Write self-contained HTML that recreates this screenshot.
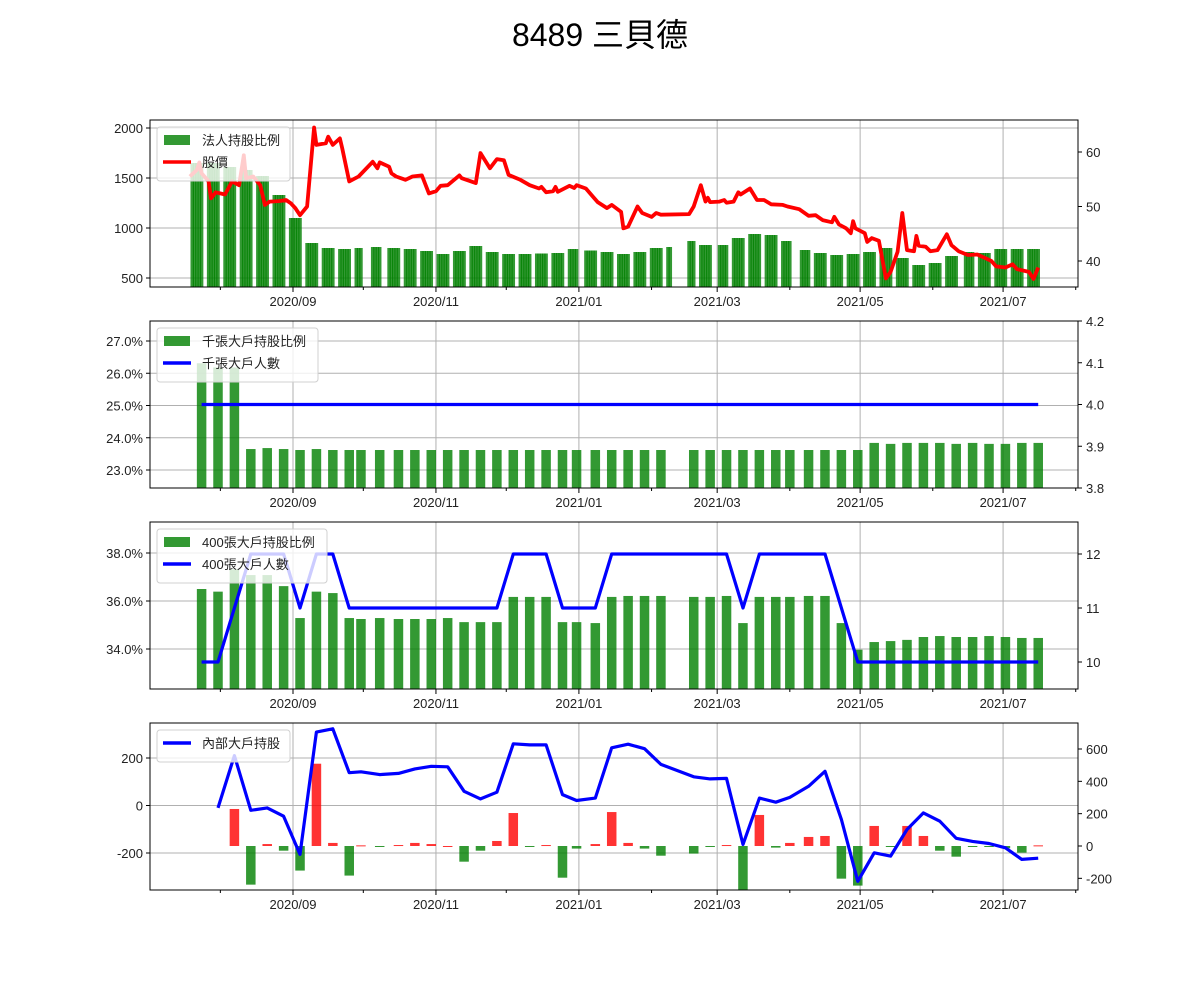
<!DOCTYPE html>
<html><head><meta charset="utf-8"><style>
body{margin:0;background:#fff;}
svg{display:block;font-family:"Liberation Sans","Noto Sans CJK TC",sans-serif;}
</style></head><body>
<svg id="chart" width="1200" height="1000" viewBox="0 0 1200 1000">
<rect x="0" y="0" width="1200" height="1000" fill="#fff"/>
<text x="600" y="46" text-anchor="middle" font-size="32" fill="#000">8489 三貝德</text>
</svg>
<script>
// ---- shared x categories (days offset from 2020-09-01) ----
const weekDays=[-39,-32,-25,-18,-11,-4,3,10,17,24,29,37,45,52,59,66,73,80,87,94,101,108,115,121,129,136,143,150,157,171,178,185,192,199,206,212,220,227,234,241,248,255,262,269,276,283,290,297,304,311,318];
const xTickLabels=["2020/09","2020/11","2021/01","2021/03","2021/05","2021/07"];
const xTickDays=[0,61,122,181,242,303];
const xMinorDays=[-31,30,91,153,212,273,334];
// ---- panel 1 ----
const instWeekly=[1650,1650,1610,1580,1520,1330,1100,850,800,790,800,810,800,790,770,740,770,820,760,740,740,745,750,790,775,760,740,760,800,810,870,830,830,900,940,930,870,780,750,730,740,760,800,700,630,650,720,760,750,790,790,790];
const holidays=[30,31,38,122,162,163,164,167,168,181,213,216,286];
const priceDays=[-44,-43,-41,-40,-39,-36,-35,-33,-29,-26,-23,-21,-20,-17,-14,-12,-10,-6,-3,-1,1,3,6,9,10,14,15,17,20,21,24,28,34,36,37,41,42,44,48,51,55,58,61,63,66,71,72,78,80,84,87,90,92,97,101,105,106,108,111,112,113,118,120,121,125,128,130,134,136,140,141,143,147,149,153,155,157,169,171,174,176,177,178,182,184,185,188,190,191,195,198,201,204,209,211,216,220,223,226,230,231,233,236,238,239,240,244,245,247,250,253,255,258,260,262,265,266,267,270,272,275,279,281,284,288,292,295,298,300,304,307,309,314,316,318];
const priceVals=[55.5,55.9,56.7,58.1,56.1,54.6,51.5,52.6,52.2,54.6,53.9,59.4,55.2,55.5,53.9,50.3,50.9,51.0,51.2,50.6,49.7,48.4,50.0,64.5,61.3,61.6,62.8,61.3,62.5,60.7,54.6,55.5,58.2,57.0,58.1,57.3,56.1,55.5,54.9,55.5,55.7,52.4,52.8,53.8,53.9,55.7,55.2,54.3,59.8,57.0,58.7,58.5,55.8,54.9,53.9,53.3,53.6,52.6,52.8,53.6,52.7,53.8,53.4,53.9,53.3,51.8,50.8,49.7,50.3,49.0,46.0,46.3,50.0,48.8,48.1,48.8,48.5,48.6,50.0,53.9,50.9,51.6,50.8,50.9,51.2,50.7,50.9,52.6,52.2,53.3,51.2,51.2,50.4,50.3,50.0,49.5,48.3,48.4,47.5,47.1,48.1,46.7,46.0,45.1,47.3,46.0,45.1,43.5,44.2,43.7,36.8,38.0,41.7,48.8,42.0,41.8,44.6,42.8,42.6,41.8,42.0,44.9,42.9,41.8,41.1,41.2,40.6,40.0,39.0,38.8,39.4,38.5,38.0,36.7,38.8];
const p1LeftTicks=[500,1000,1500,2000];
const p1RightTicks=[40,50,60];
// ---- panel 2 ----
const bigRatio=[26.31,26.18,26.18,23.65,23.68,23.65,23.62,23.65,23.62,23.62,23.62,23.62,23.62,23.62,23.62,23.62,23.62,23.62,23.62,23.62,23.62,23.62,23.62,23.62,23.62,23.62,23.62,23.62,23.62,23.62,23.62,23.62,23.62,23.62,23.62,23.62,23.62,23.62,23.62,23.62,23.84,23.81,23.84,23.84,23.84,23.81,23.84,23.81,23.81,23.84,23.84];
const bigCount=[4,4,4,4,4,4,4,4,4,4,4,4,4,4,4,4,4,4,4,4,4,4,4,4,4,4,4,4,4,4,4,4,4,4,4,4,4,4,4,4,4,4,4,4,4,4,4,4,4,4,4];
const p2LeftTicks=[23,24,25,26,27];
const p2RightTicks=[3.8,3.9,4.0,4.1,4.2];
// ---- panel 3 ----
const midRatio=[36.5,36.39,37.32,37.08,37.08,36.62,35.29,36.39,36.33,35.29,35.25,35.29,35.25,35.25,35.25,35.29,35.12,35.12,35.12,36.17,36.17,36.17,35.12,35.12,35.08,36.17,36.21,36.21,36.21,36.17,36.17,36.21,35.08,36.17,36.17,36.17,36.21,36.21,35.08,33.97,34.29,34.33,34.38,34.5,34.54,34.5,34.5,34.54,34.5,34.46,34.46];
const midCount=[10,10,11,12,12,12,11,12,12,11,11,11,11,11,11,11,11,11,11,12,12,12,11,11,11,12,12,12,12,12,12,12,11,12,12,12,12,12,11,10,10,10,10,10,10,10,10,10,10,10,10];
const p3LeftTicks=[34,36,38];
const p3RightTicks=[10,11,12];
// ---- panel 4 ----
const insiderVals=[-10,210,-20,-10,-45,-206,309,323,138,142,130,135,154,165,163,60,28,56,260,255,255,46,21,31,243,258,239,173,121,112,114,-164,31,14,34,81,144,-59,-319,-199,-213,-101,-31,-66,-138,-151,-160,-178,-227,-222];
const insiderChange=[229,-239,12,-29,-152,509,19,-183,4,-4,6,19,12,0,-97,-29,31,204,-4,6,-196,-16,12,210,19,-16,-60,-47,-4,6,-272,192,-10,19,56,62,-202,-245,124,-4,124,62,-29,-66,-4,-4,-14,-41,4];
const p4LeftTicks=[-200,0,200];
const p4RightTicks=[-200,0,200,400,600];

const NS='http://www.w3.org/2000/svg';
const svg=document.getElementById('chart');
const X0=150,X1=1078;
function xOf(d){return 293+d*2.3435;}
function mk(tag,attrs,parent){const e=document.createElementNS(NS,tag);for(const k in attrs)e.setAttribute(k,attrs[k]);(parent||svg).appendChild(e);return e;}
function lin(v0,y0,v1,y1){return v=>y0+(v-v0)*(y1-y0)/(v1-v0);}
const GREEN='rgba(0,128,0,0.8)',RED='rgba(255,0,0,0.8)';

function panel(idx,top,bot,yL,yR,lTicks,lFmt,rTicks,rFmt){
  const g=mk('g',{});
  
  
  const cp=mk('clipPath',{id:'clip'+idx},g);
  mk('rect',{x:X0,y:top,width:X1-X0,height:bot-top},cp);
  const grid=mk('g',{stroke:'#b0b0b0','stroke-width':1},g);
  
  
  xTickDays.forEach(d=>{const x=xOf(d);mk('line',{x1:x,x2:x,y1:top,y2:bot},grid);});
  lTicks.forEach(v=>{const y=yL(v);mk('line',{x1:X0,x2:X1,y1:y,y2:y},grid);});
  const plot=mk('g',{'clip-path':'url(#clip'+idx+')'},g);
  const fr=mk('rect',{x:X0,y:top,width:X1-X0,height:bot-top,fill:'none',stroke:'#000','stroke-width':1},g);
  
  
  const xt=mk('g',{},g);
  
  
  xTickDays.forEach((d,i)=>{const x=xOf(d);mk('line',{x1:x,x2:x,y1:bot,y2:bot+5,stroke:'#000'},xt);
    const t=mk('text',{x:x,y:bot+19,'text-anchor':'middle','font-size':13,fill:'#222'},xt);t.textContent=xTickLabels[i];
    
    });
  xMinorDays.forEach(d=>{const x=xOf(d);mk('line',{x1:x,x2:x,y1:bot,y2:bot+3,stroke:'#000'},xt);});
  const lt=mk('g',{},g);
  
  
  lTicks.forEach(v=>{const y=yL(v);mk('line',{x1:X0-4,x2:X0,y1:y,y2:y,stroke:'#000'},lt);
    const t=mk('text',{x:X0-7,y:y+5,'text-anchor':'end','font-size':13,fill:'#222'},lt);t.textContent=lFmt(v);
    
    });
  const rt=mk('g',{},g);
  
  
  rTicks.forEach(v=>{const y=yR(v);mk('line',{x1:X1,x2:X1+4,y1:y,y2:y,stroke:'#000'},rt);
    const t=mk('text',{x:X1+8,y:y+5,'text-anchor':'start','font-size':13,fill:'#222'},rt);t.textContent=rFmt(v);
    
    });
  return {g,plot};
}
function legend(g,x,y,w,items){
  const lg=mk('g',{},g);
  
  
  const h=10+items.length*22;
  mk('rect',{x:x,y:y,width:w,height:h,rx:3,fill:'rgba(255,255,255,0.8)',stroke:'#d0d0d0'},lg);
  items.forEach((it,i)=>{const cy=y+13+i*22;
    if(it.type==='bar'){mk('rect',{x:x+7,y:cy-5,width:26,height:10,fill:it.color},lg);}
    else{mk('line',{x1:x+6,x2:x+34,y1:cy,y2:cy,stroke:it.color,'stroke-width':3.5},lg);}
    const t=mk('text',{x:x+45,y:cy+5,'font-size':13,fill:'#222'},lg);t.textContent=it.label;
    
    });
}
function pathD(xs,ys){return xs.map((x,i)=>(i?'L':'M')+x.toFixed(1)+','+ys[i].toFixed(1)).join(' ');}

// ---- Panel 1 ----
(function(){
  const top=120,bot=287;
  const yL=lin(500,278,2000,128), yR=lin(40,261,60,152);
  const {g,plot}=panel(1,top,bot,yL,yR,p1LeftTicks,v=>String(v),p1RightTicks,v=>String(v));
  for(let w=0;w<instWeekly.length;w++){
    for(let k=0;k<5;k++){
      const d=-43+7*w+k;
      if(holidays.indexOf(d)>=0)continue;
      const x=xOf(d), y=yL(instWeekly[w]);
      const b=mk('rect',{x:x-1.75,y:y,width:3.5,height:bot-y,fill:GREEN},plot);
      
      
    }
  }
  const p=mk('path',{d:pathD(priceDays.map(xOf),priceVals.map(yR)),fill:'none',stroke:'#ff0000','stroke-width':3.8,'stroke-linejoin':'round'},plot);
  
  
  legend(g,157,127,133,[{type:'bar',color:GREEN,label:'法人持股比例'},{type:'line',color:'#ff0000',label:'股價'}]);
})();
// ---- Panel 2 ----
(function(){
  const top=321,bot=488;
  const yL=lin(23,470,27,341), yR=lin(3.8,488,4.2,321);
  const {g,plot}=panel(2,top,bot,yL,yR,p2LeftTicks,v=>v.toFixed(1)+'%',p2RightTicks,v=>v.toFixed(1));
  weekDays.forEach((d,i)=>{const x=xOf(d),y=yL(bigRatio[i]);
    const b=mk('rect',{x:x-4.75,y:y,width:9.5,height:bot-y,fill:GREEN},plot);
    
    });
  const p=mk('path',{d:pathD(weekDays.map(xOf),bigCount.map(yR)),fill:'none',stroke:'#0000ff','stroke-width':3.2},plot);
  
  
  legend(g,157,328,161,[{type:'bar',color:GREEN,label:'千張大戶持股比例'},{type:'line',color:'#0000ff',label:'千張大戶人數'}]);
})();
// ---- Panel 3 ----
(function(){
  const top=522,bot=689;
  const yL=lin(34,649,38,553), yR=lin(10,662,12,554);
  const {g,plot}=panel(3,top,bot,yL,yR,p3LeftTicks,v=>v.toFixed(1)+'%',p3RightTicks,v=>String(v));
  weekDays.forEach((d,i)=>{const x=xOf(d),y=yL(midRatio[i]);
    const b=mk('rect',{x:x-4.75,y:y,width:9.5,height:bot-y,fill:GREEN},plot);
    
    });
  const p=mk('path',{d:pathD(weekDays.map(xOf),midCount.map(yR)),fill:'none',stroke:'#0000ff','stroke-width':3.2,'stroke-linejoin':'round'},plot);
  
  
  legend(g,157,529,170,[{type:'bar',color:GREEN,label:'400張大戶持股比例'},{type:'line',color:'#0000ff',label:'400張大戶人數'}]);
})();
// ---- Panel 4 ----
(function(){
  const top=723,bot=890;
  const yL=lin(-200,853,200,758), yR=lin(0,846,600,749);
  const {g,plot}=panel(4,top,bot,yL,yR,p4LeftTicks,v=>String(v),p4RightTicks,v=>String(v));
  insiderChange.forEach((v,i)=>{const x=xOf(weekDays[i+2]);const y0=yR(0),y1=yR(v);
    const h=Math.max(Math.abs(y1-y0),1);
    const b=mk('rect',{x:x-4.75,y:Math.min(y0,y1),width:9.5,height:h,fill:v>=0?RED:GREEN},plot);
    
    });
  const xs=weekDays.slice(1).map(xOf);
  const p=mk('path',{d:pathD(xs,insiderVals.map(yL)),fill:'none',stroke:'#0000ff','stroke-width':3.2,'stroke-linejoin':'round'},plot);
  
  
  legend(g,157,730,133,[{type:'line',color:'#0000ff',label:'內部大戶持股'}]);
})();
</script>
</body></html>
